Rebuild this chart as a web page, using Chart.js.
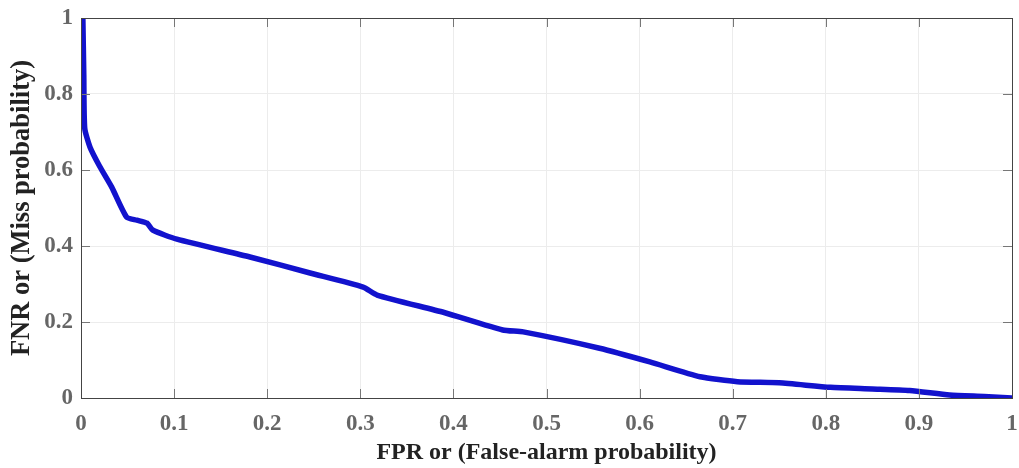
<!DOCTYPE html>
<html lang="en">
<head>
    <meta charset="UTF-8">
    <title>FNR vs FPR</title>
    <style>
        body { margin: 0; background: white; }
        #wrap { width: 1019px; height: 468px; }
    </style>
    <script src="https://cdn.jsdelivr.net/npm/chart.js@4/dist/chart.umd.min.js"></script>
</head>
<body>
    <div id="wrap"><canvas id="chart"></canvas></div>
    <script>
        // curve
        const fpr = [0.002, 0.003, 0.004, 0.0097, 0.02, 0.033, 0.049, 0.06, 0.071, 0.077, 0.103, 0.1815, 0.246, 0.303, 0.318, 0.39, 0.453, 0.475, 0.557, 0.611, 0.665, 0.705, 0.75, 0.805, 0.85, 0.89, 0.933, 0.97, 1.0];
        const fnr = [1.0, 0.85, 0.71, 0.66, 0.61, 0.555, 0.476, 0.468, 0.46, 0.442, 0.418, 0.371, 0.329, 0.292, 0.271, 0.225, 0.179, 0.174, 0.131, 0.095, 0.056, 0.043, 0.04, 0.028, 0.024, 0.02, 0.008, 0.004, 0.0];
        const xTicks = [0, 0.1, 0.2, 0.3, 0.4, 0.5, 0.6, 0.7, 0.8, 0.9, 1];
        const yTicks = [0, 0.2, 0.4, 0.6, 0.8, 1];

        const tickFont = { family: 'Liberation Serif', size: 23, weight: 'bold' };
        const titleFont = { family: 'Liberation Serif', size: 24, weight: 'bold' };
        const yTitleFont = { family: 'Liberation Serif', size: 26.5, weight: 'bold' };

        // box around the axes with small inward tick marks
        const boxPlugin = {
            id: 'box',
            afterDatasetsDraw(chart) {
                const { ctx, chartArea: a, scales } = chart;
                ctx.save();
                ctx.strokeStyle = '#777';
                ctx.lineWidth = 1;
                xTicks.forEach(v => {
                    const px = Math.round(scales.x.getPixelForValue(v)) + 0.5;
                    ctx.beginPath();
                    ctx.moveTo(px, a.bottom); ctx.lineTo(px, a.bottom - 9);
                    ctx.moveTo(px, a.top); ctx.lineTo(px, a.top + 9);
                    ctx.stroke();
                });
                yTicks.forEach(v => {
                    const py = Math.round(scales.y.getPixelForValue(v)) + 0.5;
                    ctx.beginPath();
                    ctx.moveTo(a.left, py); ctx.lineTo(a.left + 9, py);
                    ctx.moveTo(a.right, py); ctx.lineTo(a.right - 9, py);
                    ctx.stroke();
                });
                ctx.strokeStyle = '#444';
                ctx.strokeRect(Math.round(a.left) + 0.5, Math.round(a.top) + 0.5, Math.round(a.right - a.left), Math.round(a.bottom - a.top));
                ctx.restore();
            }
        };

        new Chart(document.getElementById('chart'), {
            type: 'scatter',
            data: {
                datasets: [{
                    data: fpr.map((x, i) => ({ x: x, y: fnr[i] })),
                    showLine: true,
                    borderColor: 'rgb(18, 18, 205)',
                    borderWidth: 5.5,
                    pointRadius: 0,
                    tension: 0.2
                }]
            },
            options: {
                responsive: true,
                maintainAspectRatio: false,
                animation: false,
                layout: { padding: { top: 18, right: 7, left: 0, bottom: 0 } },
                plugins: { legend: { display: false }, tooltip: { enabled: false } },
                scales: {
                    x: {
                        type: 'linear', min: 0, max: 1,
                        afterBuildTicks: s => { s.ticks = xTicks.map(v => ({ value: v })); },
                        ticks: { font: tickFont, color: '#666', padding: 12, maxRotation: 0,
                                 callback: v => String(v) },
                        grid: { color: '#ececec', tickLength: 0, drawTicks: false },
                        border: { display: false },
                        title: { display: true, text: 'FPR or (False-alarm probability)', font: titleFont, color: '#222', padding: { top: 2, bottom: 1 } },
                        afterFit: s => { s.height = 70; s.paddingLeft = 0; s.paddingRight = 0; }
                    },
                    y: {
                        type: 'linear', min: 0, max: 1,
                        afterBuildTicks: s => { s.ticks = yTicks.map(v => ({ value: v })); },
                        ticks: { font: tickFont, color: '#666', padding: 8,
                                 callback: v => String(v) },
                        grid: { color: '#ececec', drawTicks: false },
                        border: { display: false },
                        title: { display: true, text: 'FNR or (Miss probability)', font: yTitleFont, color: '#222', padding: { top: 6, bottom: 2 } },
                        afterFit: s => { s.width = 81; s.paddingTop = 0; s.paddingBottom = 0; }
                    }
                }
            },
            plugins: [boxPlugin]
        });
    </script>
</body>
</html>
